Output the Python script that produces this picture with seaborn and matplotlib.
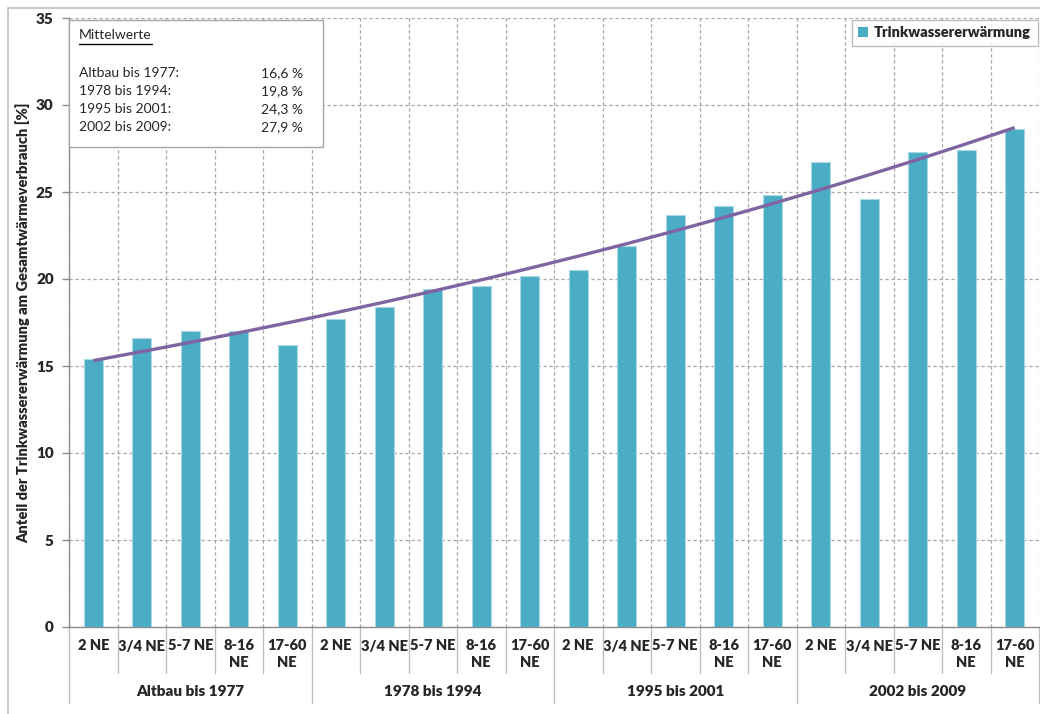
import numpy as np
import pandas as pd
import matplotlib
matplotlib.use("Agg")
import matplotlib.pyplot as plt
from matplotlib.patches import Patch, Rectangle
import seaborn as sns

# Data
groups = ["Altbau bis 1977", "1978 bis 1994", "1995 bis 2001", "2002 bis 2009"]
sizes = ["2 NE", "3/4 NE", "5-7 NE", "8-16\nNE", "17-60\nNE"]
share_altbau = [15.4, 16.6, 17.0, 17.0, 16.2]
share_1978 = [17.7, 18.4, 19.4, 19.6, 20.2]
share_1995 = [20.5, 21.9, 23.7, 24.2, 24.8]
share_2002 = [26.7, 24.6, 27.3, 27.4, 28.6]
mean_labels = ["Altbau bis 1977:", "1978 bis 1994:", "1995 bis 2001:", "2002 bis 2009:"]
mean_values = ["16,6 %", "19,8 %", "24,3 %", "27,9 %"]
series_name = "Trinkwassererwärmung"
y_label = "Anteil der Trinkwassererwärmung am Gesamtwärmeverbrauch [%]"

values = share_altbau + share_1978 + share_1995 + share_2002
df = pd.DataFrame({
    "slot": [f"{g}|{s}" for g in groups for s in sizes],
    "group": [g for g in groups for _ in sizes],
    "size": [s for _ in groups for s in sizes],
    "value": values,
})

sns.set_theme(style="white")
plt.rcParams["font.family"] = ["Lato", "DejaVu Sans"]

W, H = 1040, 714
fig = plt.figure(figsize=(W / 100, H / 100), dpi=100)
L, R, T, B = 69, 1039, 18, 627
ax = fig.add_axes([L / W, 1 - B / H, (R - L) / W, (B - T) / H])

bar_color = "#4BACC6"
sns.barplot(data=df, x="slot", y="value", order=list(df["slot"]), color=bar_color,
            width=0.4, saturation=1, edgecolor="#A9D8E6", linewidth=0.8, ax=ax,
            errorbar=None, zorder=3)

# exponential trend line fitted to the bar values
n = len(values)
xs = np.arange(n)
b, a = np.polyfit(xs, np.log(values), 1)
trend = np.exp(a + b * xs)
ax.plot(xs, trend, color="#8064A2", lw=2.4, zorder=4, solid_capstyle="butt")

ax.set_xlim(-0.5, n - 0.5)
ax.set_ylim(0, 35)
ax.set_yticks(np.arange(0, 36, 5))
ax.set_yticklabels([str(v) for v in range(0, 36, 5)])
ax.set_xlabel("")
ax.set_ylabel(y_label, fontsize=10.5, fontweight="heavy", labelpad=4)

grid_col = "#A6A6A6"
dash = (0, (2.6, 2.2))
ax.yaxis.grid(True, color=grid_col, ls=dash, lw=0.9, zorder=0)
ax.set_xticks(np.arange(-0.5, n, 1.0), minor=True)
ax.xaxis.grid(True, which="minor", color=grid_col, ls=dash, lw=0.9, zorder=0)
ax.xaxis.grid(False, which="major")
ax.set_axisbelow(True)

for side in ["top", "right"]:
    ax.spines[side].set_visible(False)
for side in ["left", "bottom"]:
    ax.spines[side].set_color("#8C8C8C")
    ax.spines[side].set_linewidth(1.0)
ax.tick_params(axis="y", length=5, width=1, color="#8C8C8C", pad=6, left=True)
ax.tick_params(axis="x", which="both", length=0)

# category labels and separators below the axis
ax.set_xticks(xs)
ax.set_xticklabels(list(df["size"]), linespacing=1.35)
ax.tick_params(axis="x", pad=9)
for lbl in ax.get_xticklabels():
    lbl.set_fontsize(10.5)
    lbl.set_fontweight("heavy")
for lbl in ax.get_yticklabels():
    lbl.set_fontsize(11)
    lbl.set_fontweight("heavy")

trans = ax.get_xaxis_transform()
ph = B - T
for k in range(n + 1):
    xb = k - 0.5
    depth = 76 if k % len(sizes) == 0 else 46
    ax.plot([xb, xb], [0, -depth / ph], transform=trans, color="#BFBFBF", lw=1.0,
            clip_on=False, zorder=1)
for gi, g in enumerate(groups):
    xc = gi * len(sizes) + (len(sizes) - 1) / 2
    ax.text(xc, -64 / ph, g, transform=trans, ha="center", va="center",
            fontsize=11, fontweight="heavy")

# legend
leg = ax.legend(handles=[Patch(facecolor=bar_color, edgecolor="none", label=series_name)],
                loc="upper right", bbox_to_anchor=(0.9985, 0.997),
                prop={"weight": "heavy", "size": 10.5}, frameon=True, fancybox=False,
                handlelength=0.7, handleheight=0.7, handletextpad=0.4, borderpad=0.45,
                borderaxespad=0)
leg.get_frame().set_edgecolor("#A6A6A6")
leg.get_frame().set_linewidth(0.9)

# box with group means
def fx(px):
    return px / W

def fy(py):
    return 1 - py / H

box = Rectangle((fx(69), fy(147)), fx(323) - fx(69), fy(20) - fy(147), transform=fig.transFigure,
                facecolor="white", edgecolor="#A6A6A6", lw=1.0, zorder=5)
fig.add_artist(box)
fig.text(fx(79), fy(35), "Mittelwerte", fontsize=10, ha="left", va="center", zorder=6)
fig.add_artist(plt.Line2D([fx(79), fx(152)], [fy(44), fy(44)], transform=fig.transFigure,
                          color="black", lw=1.0, zorder=6))
for i, (lab, val) in enumerate(zip(mean_labels, mean_values)):
    yy = fy(73 + i * 18)
    fig.text(fx(79), yy, lab, fontsize=10, ha="left", va="center", zorder=6)
    fig.text(fx(303), yy, val, fontsize=10, ha="right", va="center", zorder=6)

# outer chart frame
fig.add_artist(Rectangle((fx(8), fy(720)), fx(1045) - fx(8), fy(8) - fy(720),
                         transform=fig.transFigure, facecolor="none",
                         edgecolor="#BFBFBF", lw=1.2, zorder=0))

fig.savefig("out.png", dpi=100)
